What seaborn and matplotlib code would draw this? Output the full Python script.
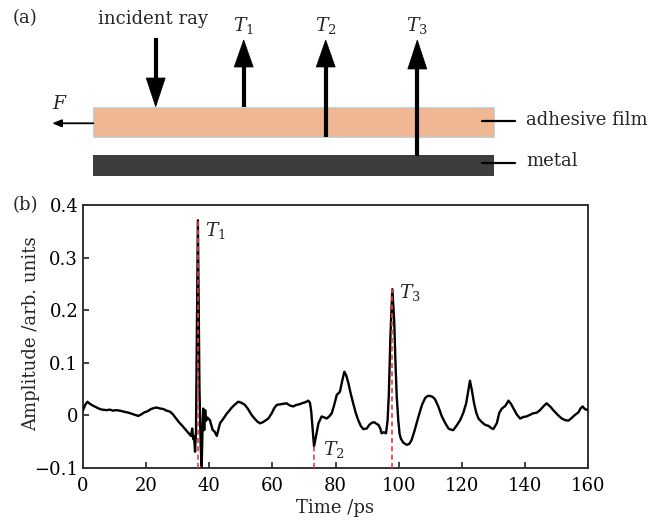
import matplotlib
matplotlib.use("Agg")
import matplotlib.pyplot as plt
from matplotlib.patches import Rectangle, Polygon
import seaborn as sns
import pandas as pd

# Terahertz time-domain waveform reflected from the adhesive film / metal sample
time_ps = [
    0.0, 0.7, 1.4, 2.2, 3.0, 4.0, 5.0, 6.0, 7.5, 8.5, 9.5, 10.5, 11.7, 13.0, 14.5,
    16.0, 17.5, 18.5, 19.5, 20.5, 21.5, 22.5, 23.3, 24.5, 25.5, 26.5, 27.6, 28.5,
    29.5, 30.7, 31.5, 32.5, 33.5, 34.2, 34.6, 34.9, 35.2, 35.5, 35.8, 36.4, 36.9,
    37.3, 37.6, 37.9, 38.1, 38.4, 38.7, 39.0, 39.4, 40.2, 41.1, 41.6, 42.4, 43.4,
    44.5, 45.5, 46.1, 47.0, 48.0, 49.2, 50.2, 51.3, 52.3, 53.4, 54.5, 55.3, 56.1,
    57.0, 58.7, 59.8, 60.6, 61.4, 62.5, 63.5, 64.5, 65.5, 66.6, 67.6, 68.5, 69.3,
    70.4, 71.4, 71.9, 72.3, 72.8, 73.2, 73.8, 74.6, 75.6, 76.5, 77.2, 78.0, 78.8,
    79.6, 80.4, 81.4, 82.1, 82.8, 83.4, 84.1, 84.8, 85.6, 86.4, 87.2, 88.0, 88.8,
    89.9, 90.7, 91.5, 92.3, 93.0, 93.6, 94.2, 94.6, 95.3, 96.0, 96.5, 96.9, 97.4,
    98.0, 98.6, 99.0, 99.4, 99.9, 100.3, 100.7, 101.5, 102.6, 103.4, 104.1, 105.0,
    106.3, 107.4, 108.4, 109.2, 110.0, 110.8, 111.5, 112.5, 113.7, 114.8, 115.8,
    116.5, 117.3, 118.3, 119.5, 120.5, 121.4, 122.0, 122.6, 123.2, 123.9, 124.6,
    125.3, 126.4, 127.4, 128.5, 129.3, 130.0, 130.6, 131.1, 131.9, 132.7, 133.8,
    134.8, 135.6, 136.4, 137.4, 138.5, 139.5, 140.5, 141.6, 142.6, 143.7, 144.8,
    146.0, 146.9, 148.0, 149.0, 150.4, 151.7, 152.8, 153.8, 154.8, 155.9, 157.0,
    157.6, 158.3, 159.0, 160.0,
]
amplitude = [
    0.010, 0.020, 0.026, 0.022, 0.019, 0.016, 0.013, 0.011, 0.010, 0.011, 0.009,
    0.010, 0.009, 0.007, 0.005, 0.002, -0.001, 0.002, 0.006, 0.008, 0.012, 0.014,
    0.015, 0.013, 0.012, 0.009, 0.007, 0.002, -0.006, -0.015, -0.020, -0.027,
    -0.034, -0.039, -0.025, -0.045, -0.040, -0.069, -0.030, 0.371, 0.050, -0.060,
    -0.097, -0.020, 0.013, -0.028, 0.010, -0.010, -0.004, -0.009, -0.028, -0.030,
    -0.039, -0.015, -0.006, 0.003, 0.007, 0.014, 0.020, 0.026, 0.024, 0.020, 0.012,
    0.001, -0.007, -0.012, -0.015, -0.013, -0.006, 0.004, 0.014, 0.020, 0.021,
    0.022, 0.023, 0.019, 0.017, 0.020, 0.021, 0.023, 0.025, 0.028, 0.024, 0.008,
    -0.030, -0.059, -0.040, -0.015, -0.002, -0.004, -0.006, -0.002, 0.004, 0.020,
    0.039, 0.045, 0.065, 0.083, 0.076, 0.061, 0.042, 0.023, 0.005, -0.009, -0.020,
    -0.026, -0.025, -0.018, -0.014, -0.013, -0.016, -0.018, -0.025, -0.034, -0.032,
    -0.034, -0.010, 0.040, 0.150, 0.240, 0.180, 0.100, 0.036, -0.010, -0.035,
    -0.044, -0.052, -0.056, -0.054, -0.047, -0.030, -0.002, 0.020, 0.033, 0.037,
    0.037, 0.035, 0.031, 0.018, -0.002, -0.015, -0.025, -0.027, -0.028, -0.020,
    -0.009, 0.005, 0.023, 0.045, 0.066, 0.048, 0.023, 0.005, -0.006, -0.013,
    -0.018, -0.020, -0.024, -0.026, -0.020, -0.015, 0.005, 0.013, 0.018, 0.028,
    0.022, 0.013, 0.002, -0.006, -0.003, -0.002, 0.001, 0.004, 0.005, 0.010, 0.018,
    0.023, 0.017, 0.010, 0.001, -0.006, -0.009, -0.010, -0.005, 0.001, 0.006,
    0.013, 0.017, 0.012, 0.010,
]

# Echo peaks T1, T2, T3 (time, amplitude)
echo_labels = [r"$T_1$", r"$T_2$", r"$T_3$"]
echo_times = [36.4, 73.2, 98.0]
echo_amps = [0.371, -0.059, 0.240]

x_ticks = [0, 20, 40, 60, 80, 100, 120, 140, 160]
y_ticks = [-0.1, 0.0, 0.1, 0.2, 0.3, 0.4]
y_tick_labels = ["\u22120.1", "0", "0.1", "0.2", "0.3", "0.4"]

sns.set_style("ticks")
plt.rcParams["font.family"] = ["DejaVu Serif"]
plt.rcParams["mathtext.fontset"] = "dejavuserif"

FS = 13

W, H = 663, 520
fig = plt.figure(figsize=(W / 100, H / 100), dpi=100)

# ---------- (a) schematic, drawn in pixel units ----------
sk = fig.add_axes([0, 0, 1, 1])
sk.set_xlim(0, W)
sk.set_ylim(H, 0)
sk.axis("off")

sk.add_patch(Rectangle((93.3, 106.7), 400.7, 30.0, facecolor="#efb793",
                       edgecolor="#b5d9e6", lw=0.8, zorder=1))
sk.add_patch(Rectangle((93.3, 155.3), 400.7, 20.4, facecolor="#3d3d3d",
                       edgecolor="none", zorder=1))


def big_arrow(x, y_tail, y_base, y_tip, half_w=9.5, lw=3.0):
    sk.plot([x, x], [y_tail, y_base], color="black", lw=lw,
            solid_capstyle="butt", zorder=3)
    sk.add_patch(Polygon([(x - half_w, y_base), (x + half_w, y_base), (x, y_tip)],
                         closed=True, facecolor="black", edgecolor="black",
                         lw=0.5, zorder=3))


big_arrow(155.7, 38, 78, 106.7)      # incident ray
big_arrow(243.7, 107, 67, 40)        # T1
big_arrow(325.7, 137, 67, 40)        # T2
big_arrow(417.3, 155.5, 69, 40)      # T3

# pulling force F
sk.annotate("", xy=(52, 123.3), xytext=(93.3, 123.3),
            arrowprops=dict(arrowstyle="-|>,head_length=0.55,head_width=0.22",
                            color="black", lw=1.3, shrinkA=0, shrinkB=0))
sk.text(60, 104, r"$F$", fontsize=13.5, ha="center", va="center")

sk.text(25, 18, "(a)", fontsize=FS, ha="center", va="center")
sk.text(153, 19, "incident ray", fontsize=FS, ha="center", va="center")
for lab, xx in zip(echo_labels, [243.5, 325.5, 417.0]):
    sk.text(xx, 26, lab, fontsize=13.5, ha="center", va="center")

sk.plot([482, 515], [121, 121], color="black", lw=1.6, zorder=3)
sk.plot([482, 515], [163, 163], color="black", lw=1.6, zorder=3)
sk.text(526, 120, "adhesive film", fontsize=FS, ha="left", va="center")
sk.text(526, 161, "metal", fontsize=FS, ha="left", va="center")

sk.text(25, 205, "(b)", fontsize=FS, ha="center", va="center")

# ---------- (b) waveform ----------
L, R, T, B = 83, 588, 205, 468
ax = fig.add_axes([L / W, 1 - B / H, (R - L) / W, (B - T) / H])
df = pd.DataFrame({"Time /ps": time_ps, "Amplitude": amplitude})
sns.lineplot(data=df, x="Time /ps", y="Amplitude", color="black", lw=1.7,
             ax=ax, zorder=3)

ax.vlines(echo_times, [-0.1] * len(echo_times), echo_amps, colors="#f23a3a",
          linestyles=(0, (3, 2)), lw=1.2, zorder=4)

label_offsets = [(7, -10), (9, -3), (7, -3)]
for lab, t, a, off in zip(echo_labels, echo_times, echo_amps, label_offsets):
    ax.annotate(lab, xy=(t, a), xytext=off, textcoords="offset pixels",
                fontsize=13.5, ha="left", va="center")

ax.set_xlim(0, 160)
ax.set_ylim(-0.1, 0.4)
ax.set_xticks(x_ticks)
ax.set_xticklabels([str(v) for v in x_ticks])
ax.set_yticks(y_ticks)
ax.set_yticklabels(y_tick_labels)
ax.tick_params(axis="both", direction="in", length=4, width=1.2,
               labelsize=FS, colors="#222222", labelcolor="black")
ax.tick_params(axis="y", pad=3.5)
ax.tick_params(axis="x", pad=6.5)
for sp in ax.spines.values():
    sp.set_visible(True)
    sp.set_linewidth(1.4)
    sp.set_color("#333333")

ax.set_xlabel("Time /ps", fontsize=FS, va="center")
ax.set_ylabel("Amplitude /arb. units", fontsize=FS, va="center")
ax.xaxis.set_label_coords(0.5, -0.152)
ax.yaxis.set_label_coords(-0.103, 0.51)

fig.savefig("out.png", dpi=100)
